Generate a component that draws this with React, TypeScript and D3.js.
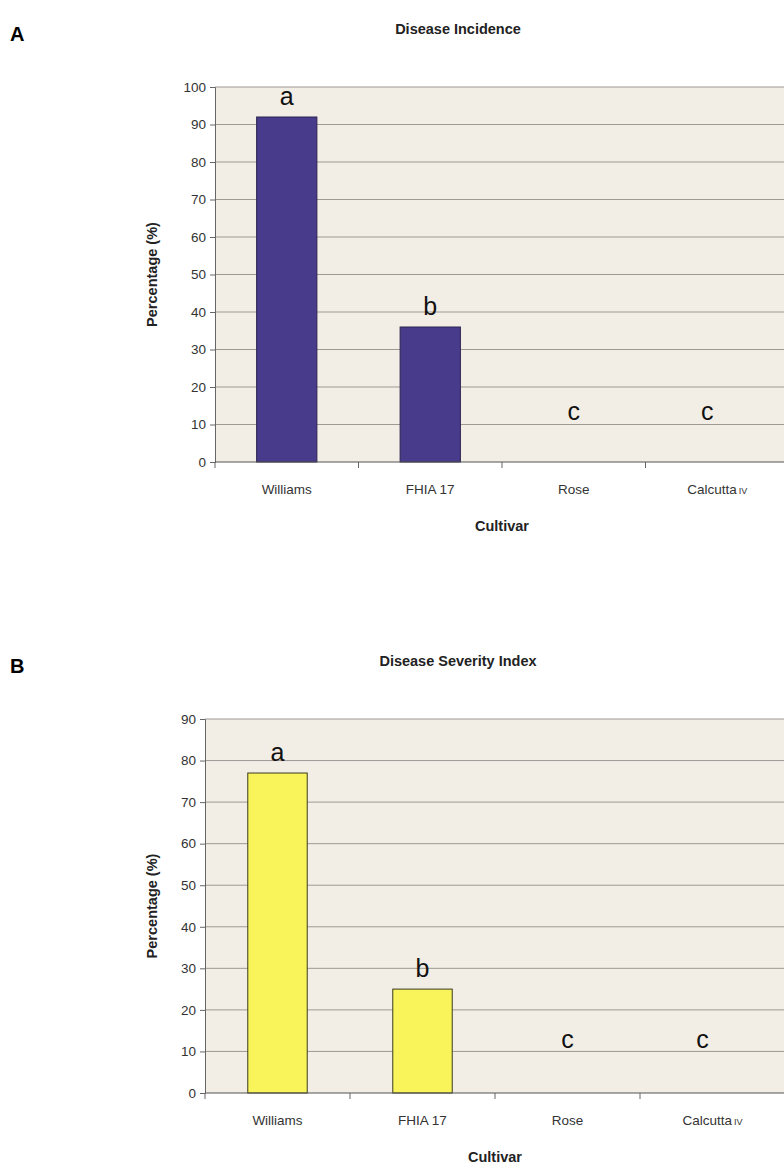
import React, { useEffect, useRef } from 'react';
import * as d3 from 'd3';

const cultivars = ["Williams", "FHIA 17", "Rose", "Calcutta"];
const cultivarSuffix = ["", "", "", "IV"];
const incidence = [92, 36, 0, 0];
const severity = [77, 25, 0, 0];
const incidenceGroups = ["a", "b", "c", "c"];
const severityGroups = ["a", "b", "c", "c"];
const incidenceTicks = [0, 10, 20, 30, 40, 50, 60, 70, 80, 90, 100];
const severityTicks = [0, 10, 20, 30, 40, 50, 60, 70, 80, 90];

const W = 784;
const H = 1167;
const FONT = "Liberation Sans, Arial, sans-serif";

const drawPanel = (svg, opts) => {
    const { letter, title, values, groups, ticks, top, bottom, left, step, fill, stroke, barFrac } = opts;
    const g = svg.append("g");

    const x = d3.scaleBand()
        .domain(cultivars)
        .range([left, left + step * cultivars.length])
        .paddingInner(1 - barFrac)
        .paddingOuter((1 - barFrac) / 2);

    const y = d3.scaleLinear()
        .domain([0, d3.max(ticks)])
        .range([bottom, top]);

    // panel letter and title
    g.append("text").attr("x", 10).attr("y", top - 46)
        .attr("font-family", FONT).attr("font-weight", "bold").attr("font-size", 20)
        .text(letter);
    g.append("text").attr("x", 458).attr("y", top - 53)
        .attr("text-anchor", "middle")
        .attr("font-family", FONT).attr("font-weight", "bold").attr("font-size", 14.5)
        .attr("fill", "#222")
        .text(title);

    // plot background
    g.append("rect")
        .attr("x", left).attr("y", top)
        .attr("width", W - left).attr("height", bottom - top)
        .attr("fill", "#f2ede5");

    // gridlines
    g.append("g").selectAll("line")
        .data(ticks.filter(t => t > 0))
        .join("line")
        .attr("x1", left).attr("x2", W)
        .attr("y1", d => y(d)).attr("y2", d => y(d))
        .attr("stroke", "#9d9a95").attr("stroke-width", 1);

    // bars
    g.append("g").selectAll("rect")
        .data(values)
        .join("rect")
        .attr("x", (d, i) => x(cultivars[i]))
        .attr("y", d => y(d))
        .attr("width", x.bandwidth())
        .attr("height", d => bottom - y(d))
        .attr("fill", fill)
        .attr("stroke", stroke)
        .attr("stroke-width", 1);

    // group letters
    g.append("g").selectAll("text")
        .data(groups)
        .join("text")
        .attr("x", (d, i) => x(cultivars[i]) + x.bandwidth() / 2 - (i === 3 ? 10 : 0))
        .attr("y", (d, i) => y(Math.max(values[i], 8)) - 12)
        .attr("text-anchor", "middle")
        .attr("font-family", FONT).attr("font-size", 25)
        .attr("fill", "#111")
        .text(d => d);

    // y axis
    const yAxis = g.append("g")
        .attr("transform", `translate(${left},0)`)
        .call(d3.axisLeft(y).tickValues(ticks).tickSize(5).tickPadding(4));
    yAxis.select(".domain").attr("stroke", "#666");
    yAxis.selectAll(".tick line").attr("stroke", "#666");
    yAxis.selectAll(".tick text")
        .attr("font-family", FONT).attr("font-size", 13.5).attr("fill", "#333");

    // x axis line and separator ticks
    g.append("line")
        .attr("x1", left).attr("x2", W)
        .attr("y1", bottom).attr("y2", bottom)
        .attr("stroke", "#555").attr("stroke-width", 1.2);
    g.append("g").selectAll("line")
        .data(d3.range(cultivars.length + 1))
        .join("line")
        .attr("x1", i => left + step * i).attr("x2", i => left + step * i)
        .attr("y1", bottom).attr("y2", bottom + 6)
        .attr("stroke", "#666");

    // x labels
    const lab = g.append("g").selectAll("text")
        .data(cultivars)
        .join("text")
        .attr("x", d => x(d) + x.bandwidth() / 2)
        .attr("y", bottom + 32)
        .attr("text-anchor", "middle")
        .attr("font-family", FONT).attr("font-size", 13.5)
        .attr("fill", "#333");
    lab.append("tspan").text(d => d);
    lab.append("tspan")
        .attr("font-size", 9)
        .attr("dx", 2)
        .text((d, i) => cultivarSuffix[i]);

    // axis titles
    g.append("text")
        .attr("x", left + step * 2).attr("y", bottom + 69)
        .attr("text-anchor", "middle")
        .attr("font-family", FONT).attr("font-weight", "bold").attr("font-size", 14.5)
        .attr("fill", "#222")
        .text("Cultivar");
    g.append("text")
        .attr("transform", `translate(157,${(top + bottom) / 2}) rotate(-90)`)
        .attr("text-anchor", "middle")
        .attr("font-family", FONT).attr("font-weight", "bold").attr("font-size", 14.5)
        .attr("fill", "#222")
        .text("Percentage (%)");
};

const App = () => {
    const svgRef = useRef();

    useEffect(() => {
        const svg = d3.select(svgRef.current);
        svg.selectAll("*").remove();

        svg.append("rect").attr("width", W).attr("height", H).attr("fill", "#fff");

        drawPanel(svg, {
            letter: "A", title: "Disease Incidence",
            values: incidence, groups: incidenceGroups, ticks: incidenceTicks,
            top: 87, bottom: 462, left: 215, step: 143.5,
            fill: "#483b8c", stroke: "#2c2450", barFrac: 0.42
        });

        drawPanel(svg, {
            letter: "B", title: "Disease Severity Index",
            values: severity, groups: severityGroups, ticks: severityTicks,
            top: 719, bottom: 1093, left: 205, step: 145,
            fill: "#f8f45a", stroke: "#3a3a20", barFrac: 0.41
        });
    }, []);

    return <svg ref={svgRef} width={W} height={H} style={{ position: "absolute", left: 0, top: 0 }}></svg>;
};

export default App;
